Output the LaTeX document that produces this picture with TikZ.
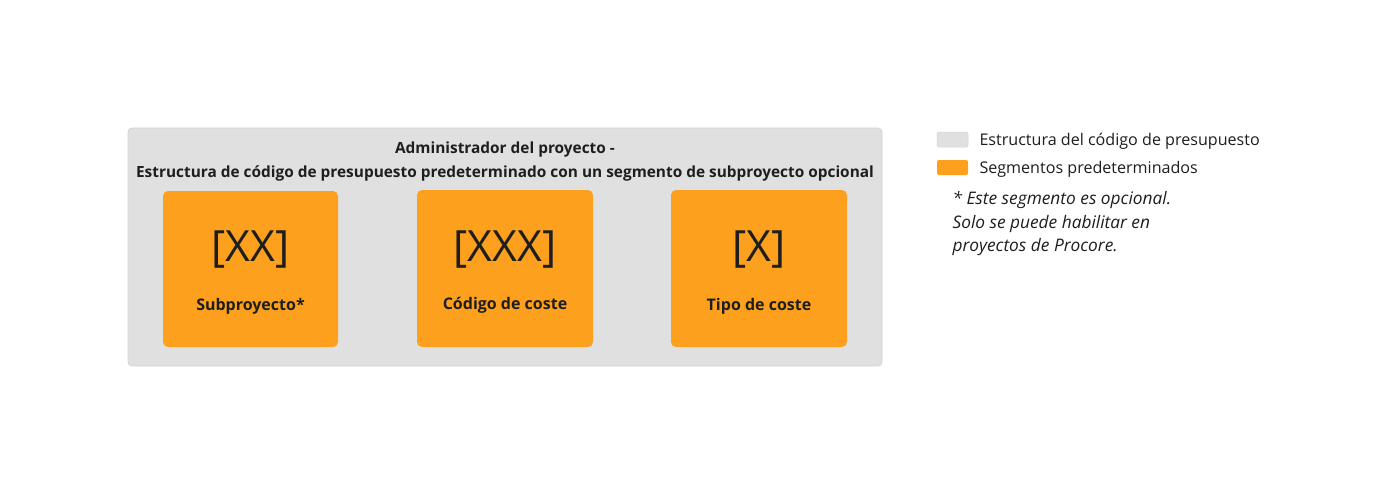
\documentclass[tikz,border=0pt]{standalone}
\usepackage{fontspec}
\setmainfont{Open Sans}
\definecolor{panelgray}{HTML}{E0E0E0}
\definecolor{panelline}{HTML}{D4D4D4}
\definecolor{segorange}{HTML}{FCA01D}
\definecolor{ink}{HTML}{1E1E1E}
\begin{document}
\begin{tikzpicture}[x=1pt,y=-1pt,
  panel/.style={fill=panelgray,draw=panelline,line width=0.8pt,rounded corners=4pt},
  seg/.style={fill=segorange,rounded corners=5pt},
  code/.style={text=ink,font=\fontsize{43}{43}\selectfont,anchor=center},
  seglabel/.style={text=ink,font=\bfseries\fontsize{16}{18}\selectfont,anchor=center},
  title/.style={text=ink,font=\bfseries\fontsize{15.4}{18}\selectfont,anchor=center},
  legtext/.style={text=ink,font=\fontsize{16.1}{19}\selectfont,anchor=west},
  note/.style={text=ink,font=\itshape\fontsize{17.3}{23.5}\selectfont,anchor=north west,align=left}]
\useasboundingbox (0,0) rectangle (1389,495);
\fill[white] (0,0) rectangle (1389,495);
\draw[panel] (128,128) rectangle (882,366);
\node[title] (t1) at (505,149.5) {Administrador del proyecto -};
\node[title] (t2) at (505,173.5) {Estructura de código de presupuesto predeterminado con un segmento de subproyecto opcional};
\fill[seg] (163,191) rectangle (338,347);
\fill[seg] (417,190) rectangle (593,347);
\fill[seg] (671,190) rectangle (847,347);
\node[code] (c1) at (250.5,249.5) {[XX]};
\node[code] (c2) at (505,249.5) {[XXX]};
\node[code] (c3) at (759,249.5) {[X]};
\node[seglabel] (l1) at (250.5,306.5) {Subproyecto*};
\node[seglabel] (l2) at (505,305.5) {Código de coste};
\node[seglabel] (l3) at (759,306.5) {Tipo de coste};
\fill[panelgray,draw=panelline,line width=0.5pt,rounded corners=2pt] (937,132) rectangle (968,147);
\fill[segorange,rounded corners=2pt] (937,160) rectangle (968,175);
\node[legtext] (g1) at (976,141) {Estructura del código de presupuesto};
\node[legtext] (g2) at (976,169) {Segmentos predeterminados};
\node[note] (n) at (949,188) {* Este segmento es opcional.\\Solo se puede habilitar en\\proyectos de Procore.};
\end{tikzpicture}
\end{document}
